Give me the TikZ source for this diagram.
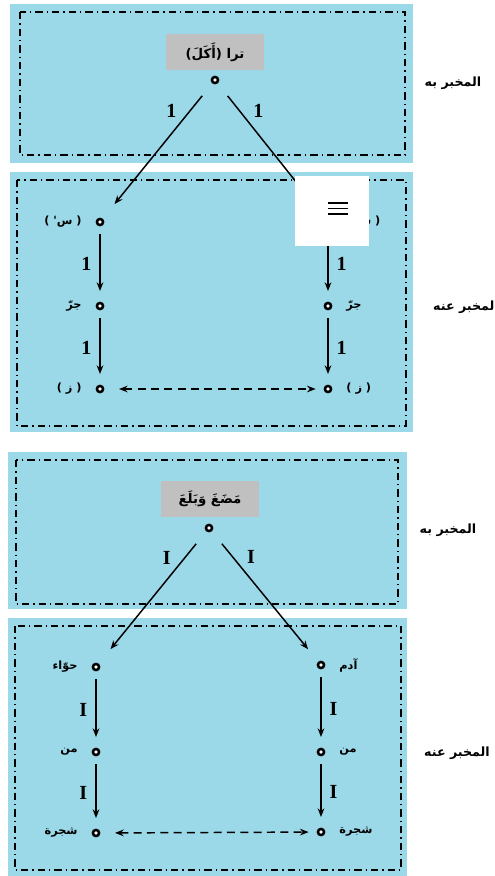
\documentclass[tikz,border=0pt]{standalone}
\usepackage{fontspec}
\setmainfont{Liberation Serif}
\newfontfamily\arabicfont[Script=Arabic]{DejaVu Sans}
\TeXXeTstate=1
\usetikzlibrary{arrows.meta}

\definecolor{skyblue}{RGB}{155,216,232}
\definecolor{tagbg}{RGB}{192,192,192}

% right-to-left arabic text
\newcommand{\artext}[1]{{\arabicfont\beginR #1\endR}}

\begin{document}
\begin{tikzpicture}[x=0.75pt, y=-0.75pt, >=Stealth,
    panel/.style={fill=skyblue},
    frame/.style={line width=1.2pt, dash pattern=on 5.5pt off 3pt on 1pt off 3pt},
    dot/.style={circle, draw=black, fill=white, line width=1.9pt, inner sep=0pt, minimum size=4.6pt},
    tag/.style={fill=tagbg, minimum width=74pt, minimum height=27pt, font=\arabicfont\bfseries\fontsize{10pt}{12pt}\selectfont},
    lbl/.style={font=\arabicfont\bfseries\fontsize{8.5pt}{10pt}\selectfont, label distance=7pt},
    side/.style={font=\arabicfont\bfseries\fontsize{9.5pt}{11pt}\selectfont},
    num/.style={font=\bfseries\fontsize{15pt}{17pt}\selectfont, inner sep=1pt},
    link/.style={-{Stealth[length=6.5pt, width=5pt]}, line width=1.1pt},
    rel/.style={{Stealth[length=6.5pt, width=5pt]}-{Stealth[length=6.5pt, width=5pt]}, line width=1.1pt, dash pattern=on 6pt off 4pt}]
    \useasboundingbox (0,0) rectangle (495,876);

    % ---- first figure ----
    % predicate panel
    \fill[panel] (10,4) rectangle (413,163);
    \draw[frame] (20,12) rectangle (405,155);
    \node[tag] (tagA) at (215,52) {\artext{ترا (أَكَلَ)}};
    \node[dot] (apexA) at (215,80) {};
    \node[side] (predA) at (453,83) {\artext{المخبر به}};

    % subject panel
    \fill[panel] (10,172) rectangle (413,432);
    \draw[frame] (17,180) rectangle (406,426);
    \node[side] (subjA) at (466,307) {\artext{المخبر عنه}};

    \node[dot, label={[lbl]left:{\arabicfont ) س' (}}] (la1) at (100,222) {};
    \node[dot, label={[lbl]left:\artext{جرّ}}] (la2) at (100,306) {};
    \node[dot, label={[lbl]left:{\arabicfont ) ز (}}] (la3) at (100,389) {};
    \node[dot, label={[lbl]right:{\arabicfont ) س (}}] (ra1) at (328,222) {};
    \node[dot, label={[lbl]right:\artext{جرّ}}] (ra2) at (328,306) {};
    \node[dot, label={[lbl]right:{\arabicfont ) ز (}}] (ra3) at (328,389) {};

    \draw[link, shorten <=12pt, shorten >=14pt] (apexA) -- node[num, pos=.2, left=9pt] {1} (la1);
    \draw[link, shorten <=12pt, shorten >=14pt] (apexA) -- node[num, pos=.2, right=9pt] {1} (ra1);
    \draw[link, shorten <=6pt, shorten >=8pt] (la1) -- node[num, left=5pt] {1} (la2);
    \draw[link, shorten <=6pt, shorten >=8pt] (la2) -- node[num, left=5pt] {1} (la3);
    \draw[link, shorten <=6pt, shorten >=8pt] (ra1) -- node[num, right=5pt] {1} (ra2);
    \draw[link, shorten <=6pt, shorten >=8pt] (ra2) -- node[num, right=5pt] {1} (ra3);
    \draw[rel, shorten <=11pt, shorten >=6pt] (la3) -- (ra3);

    % menu box lying over the corner
    \fill[white] (295,176) rectangle (369,246);
    \draw[line width=0.9pt] (328,203) -- (348,203) (328,208.5) -- (348,208.5) (328,214) -- (348,214);

    % ---- second figure ----
    % predicate panel
    \fill[panel] (8,452) rectangle (407,609);
    \draw[frame] (16,460) rectangle (398,604);
    \node[tag] (tagB) at (210,499) {\artext{مَضَغَ وَبَلَعَ}};
    \node[dot] (apexB) at (209,528) {};
    \node[side] (predB) at (448,530) {\artext{المخبر به}};

    % subject panel
    \fill[panel] (8,618) rectangle (407,880);
    \draw[frame] (15,626) rectangle (401,870);
    \node[side] (subjB) at (457,753) {\artext{المخبر عنه}};

    \node[dot, label={[lbl]left:\artext{حوّاء}}] (lb1) at (96,667) {};
    \node[dot, label={[lbl]left:\artext{من}}] (lb2) at (96,752) {};
    \node[dot, label={[lbl]left:\artext{شجرة}}] (lb3) at (96,833) {};
    \node[dot, label={[lbl]right:\artext{آدم}}] (rb1) at (321,665) {};
    \node[dot, label={[lbl]right:\artext{من}}] (rb2) at (321,752) {};
    \node[dot, label={[lbl]right:\artext{شجرة}}] (rb3) at (321,832) {};

    \draw[link, shorten <=12pt, shorten >=14pt] (apexB) -- node[num, pos=.2, left=9pt] {I} (lb1);
    \draw[link, shorten <=12pt, shorten >=12pt] (apexB) -- node[num, pos=.2, right=9pt] {I} (rb1);
    \draw[link, shorten <=6pt, shorten >=8pt] (lb1) -- node[num, left=5pt] {I} (lb2);
    \draw[link, shorten <=6pt, shorten >=8pt] (lb2) -- node[num, left=5pt] {I} (lb3);
    \draw[link, shorten <=6pt, shorten >=8pt] (rb1) -- node[num, right=5pt] {I} (rb2);
    \draw[link, shorten <=6pt, shorten >=8pt] (rb2) -- node[num, right=5pt] {I} (rb3);
    \draw[rel, shorten <=11pt, shorten >=6pt] (lb3) -- (rb3);
\end{tikzpicture}
\end{document}
